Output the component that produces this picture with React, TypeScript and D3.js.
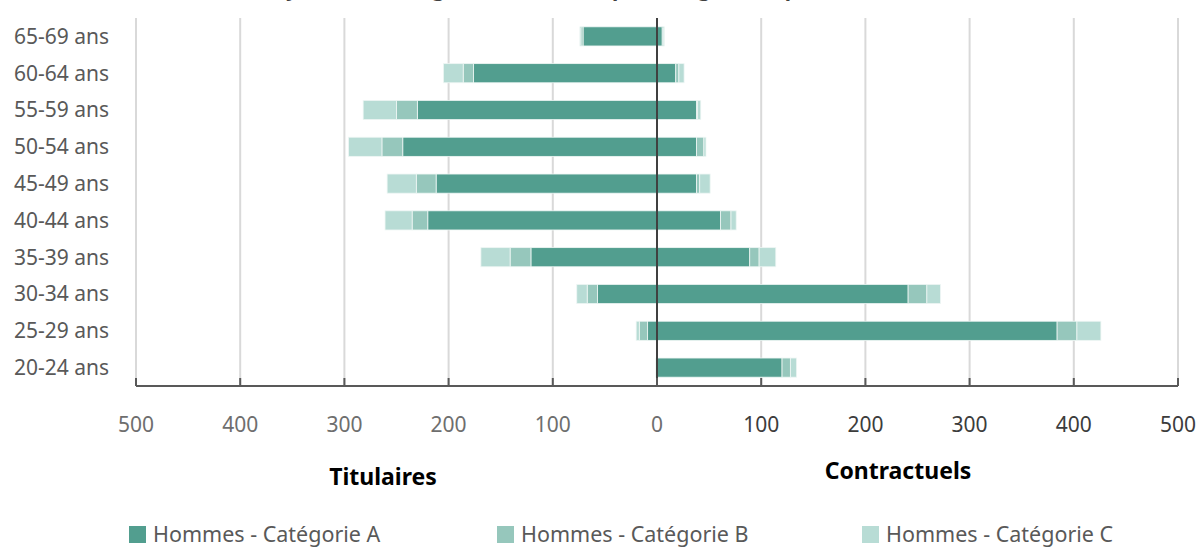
import React from "react";
import * as d3 from "d3";

const ages = ["20-24 ans", "25-29 ans", "30-34 ans", "35-39 ans", "40-44 ans", "45-49 ans", "50-54 ans", "55-59 ans", "60-64 ans", "65-69 ans"];
const titA = [1, 9, 57, 121, 220, 212, 244, 230, 176, 71];
const titB = [0, 8, 10, 20, 15, 19, 20, 20, 10, 2];
const titC = [0, 3, 10, 28, 26, 28, 32, 32, 19, 1];
const conA = [120, 384, 241, 89, 61, 38, 38, 38, 18, 5];
const conB = [8, 19, 18, 9, 10, 3, 7, 1, 3, 1];
const conC = [6, 23, 13, 16, 5, 10, 2, 3, 5, 1];
const seriesNames = ["Hommes - Catégorie A", "Hommes - Catégorie B", "Hommes - Catégorie C"];
const colors = ["#529e8f", "#96c7bc", "#b8dcd5"];
const ticks = [-500, -400, -300, -200, -100, 0, 100, 200, 300, 400, 500];
const title = "Pyramide des âges des hommes par catégorie et par statut";

const FONT = "'Noto Sans', 'Open Sans', sans-serif";

export default function App() {
  const W = 1200, H = 547;
  const top = 18, bottom = 386;
  const x = d3.scaleLinear().domain([-500, 500]).range([136, 1178]);
  const y = d3.scaleBand<string>().domain([...ages].reverse()).range([top, bottom]).paddingInner(0.48).paddingOuter(0.24);

  const bars: JSX.Element[] = [];
  ages.forEach((age, i) => {
    const tit = [titA[i], titB[i], titC[i]];
    const con = [conA[i], conB[i], conC[i]];
    let acc = 0;
    tit.forEach((v, k) => {
      if (v <= 0) return;
      const x0 = x(-acc), x1 = x(-(acc + v));
      bars.push(<rect key={`t${i}${k}`} x={x1} y={y(age)} width={x0 - x1} height={y.bandwidth()} fill={colors[k]} stroke="#eef6f4" strokeWidth={0.8} />);
      acc += v;
    });
    acc = 0;
    con.forEach((v, k) => {
      if (v <= 0) return;
      const x0 = x(acc), x1 = x(acc + v);
      bars.push(<rect key={`c${i}${k}`} x={x0} y={y(age)} width={x1 - x0} height={y.bandwidth()} fill={colors[k]} stroke="#eef6f4" strokeWidth={0.8} />);
      acc += v;
    });
  });

  const legendX = [129, 497, 862];

  return (
    <svg width={W} height={H} style={{ position: "absolute", left: 0, top: 0, display: "block", background: "#fff" }} fontFamily={FONT}>
      <text x={273} y={-4} fontSize={21} fontWeight="bold" fill="#404040">{title}</text>
      {ticks.map(t => (
        <line key={`g${t}`} x1={x(t)} x2={x(t)} y1={top} y2={bottom} stroke="#d9d9d9" strokeWidth={2} />
      ))}
      {bars}
      <line x1={x(0)} x2={x(0)} y1={top} y2={bottom} stroke="#404040" strokeWidth={2} />
      <line x1={x(-500)} x2={x(500)} y1={bottom} y2={bottom} stroke="#595959" strokeWidth={2} />
      {ticks.map(t => (
        <line key={`tk${t}`} x1={x(t)} x2={x(t)} y1={bottom - 8} y2={bottom} stroke="#595959" strokeWidth={2} />
      ))}
      {ticks.map(t => (
        <text key={`tl${t}`} x={x(t)} y={432} textAnchor="middle" fontSize={21} fill={t <= 0 ? "#6e6e6e" : "#3c3c3c"}>{Math.abs(t)}</text>
      ))}
      {ages.map(a => (
        <text key={`a${a}`} x={109} y={(y(a) as number) + y.bandwidth() / 2} dy="0.35em" textAnchor="end" fontSize={21} fill="#595959">{a}</text>
      ))}
      <text x={383} y={485} textAnchor="middle" fontSize={23} fontWeight="bold" fill="#000">Titulaires</text>
      <text x={898} y={479} textAnchor="middle" fontSize={23} fontWeight="bold" fill="#000">Contractuels</text>
      {seriesNames.map((n, k) => (
        <g key={n}>
          <rect x={legendX[k]} y={526} width={17} height={17} fill={colors[k]} />
          <text x={legendX[k] + 24} y={542} fontSize={21.5} fill="#595959">{n}</text>
        </g>
      ))}
    </svg>
  );
}
